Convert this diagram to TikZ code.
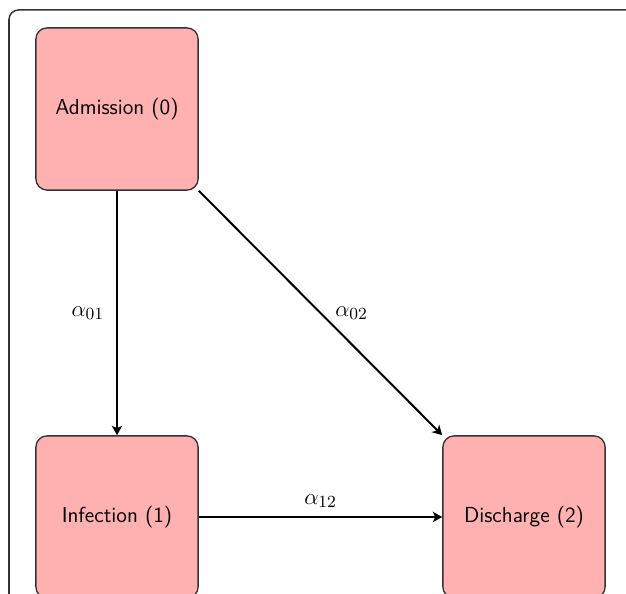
\documentclass[tikz,border=0pt]{standalone}
\usetikzlibrary{arrows.meta}
\definecolor{boxfill}{RGB}{255,176,176}
\begin{document}
\begin{tikzpicture}[x=0.53pt, y=0.53pt, every node/.style={font=\sffamily\fontsize{11.5}{14}\selectfont},
    state/.style={draw=black!80, fill=boxfill, rounded corners=6pt,
                  minimum width=86pt, minimum height=86pt, line width=0.7pt},
    lab/.style={font=\fontsize{12.5}{14}\selectfont},
    trans/.style={-{Stealth[length=5pt, width=5.5pt, inset=1.3pt]}, line width=1.05pt}]
  \useasboundingbox (0,0) rectangle (626,594);
  \clip (0,0) rectangle (626,594);
  % outer frame
  \draw[black!80, line width=0.8pt, rounded corners=5pt] (9,-40) -- (9,584) -- (700,584);
  \node[state] (adm) at (117,485) {Admission (0)};
  \node[state] (inf) at (117,77) {Infection (1)};
  \node[state] (dis) at (524,77) {Discharge (2)};
  \draw[trans] (adm) -- node[lab, left=3pt] {$\alpha_{01}$} (inf);
  \draw[trans] (adm.south east) -- node[lab, right=4pt] {$\alpha_{02}$} (dis.north west);
  \draw[trans] (inf) -- node[lab, above=1pt] {$\alpha_{12}$} (dis);
\end{tikzpicture}
\end{document}
